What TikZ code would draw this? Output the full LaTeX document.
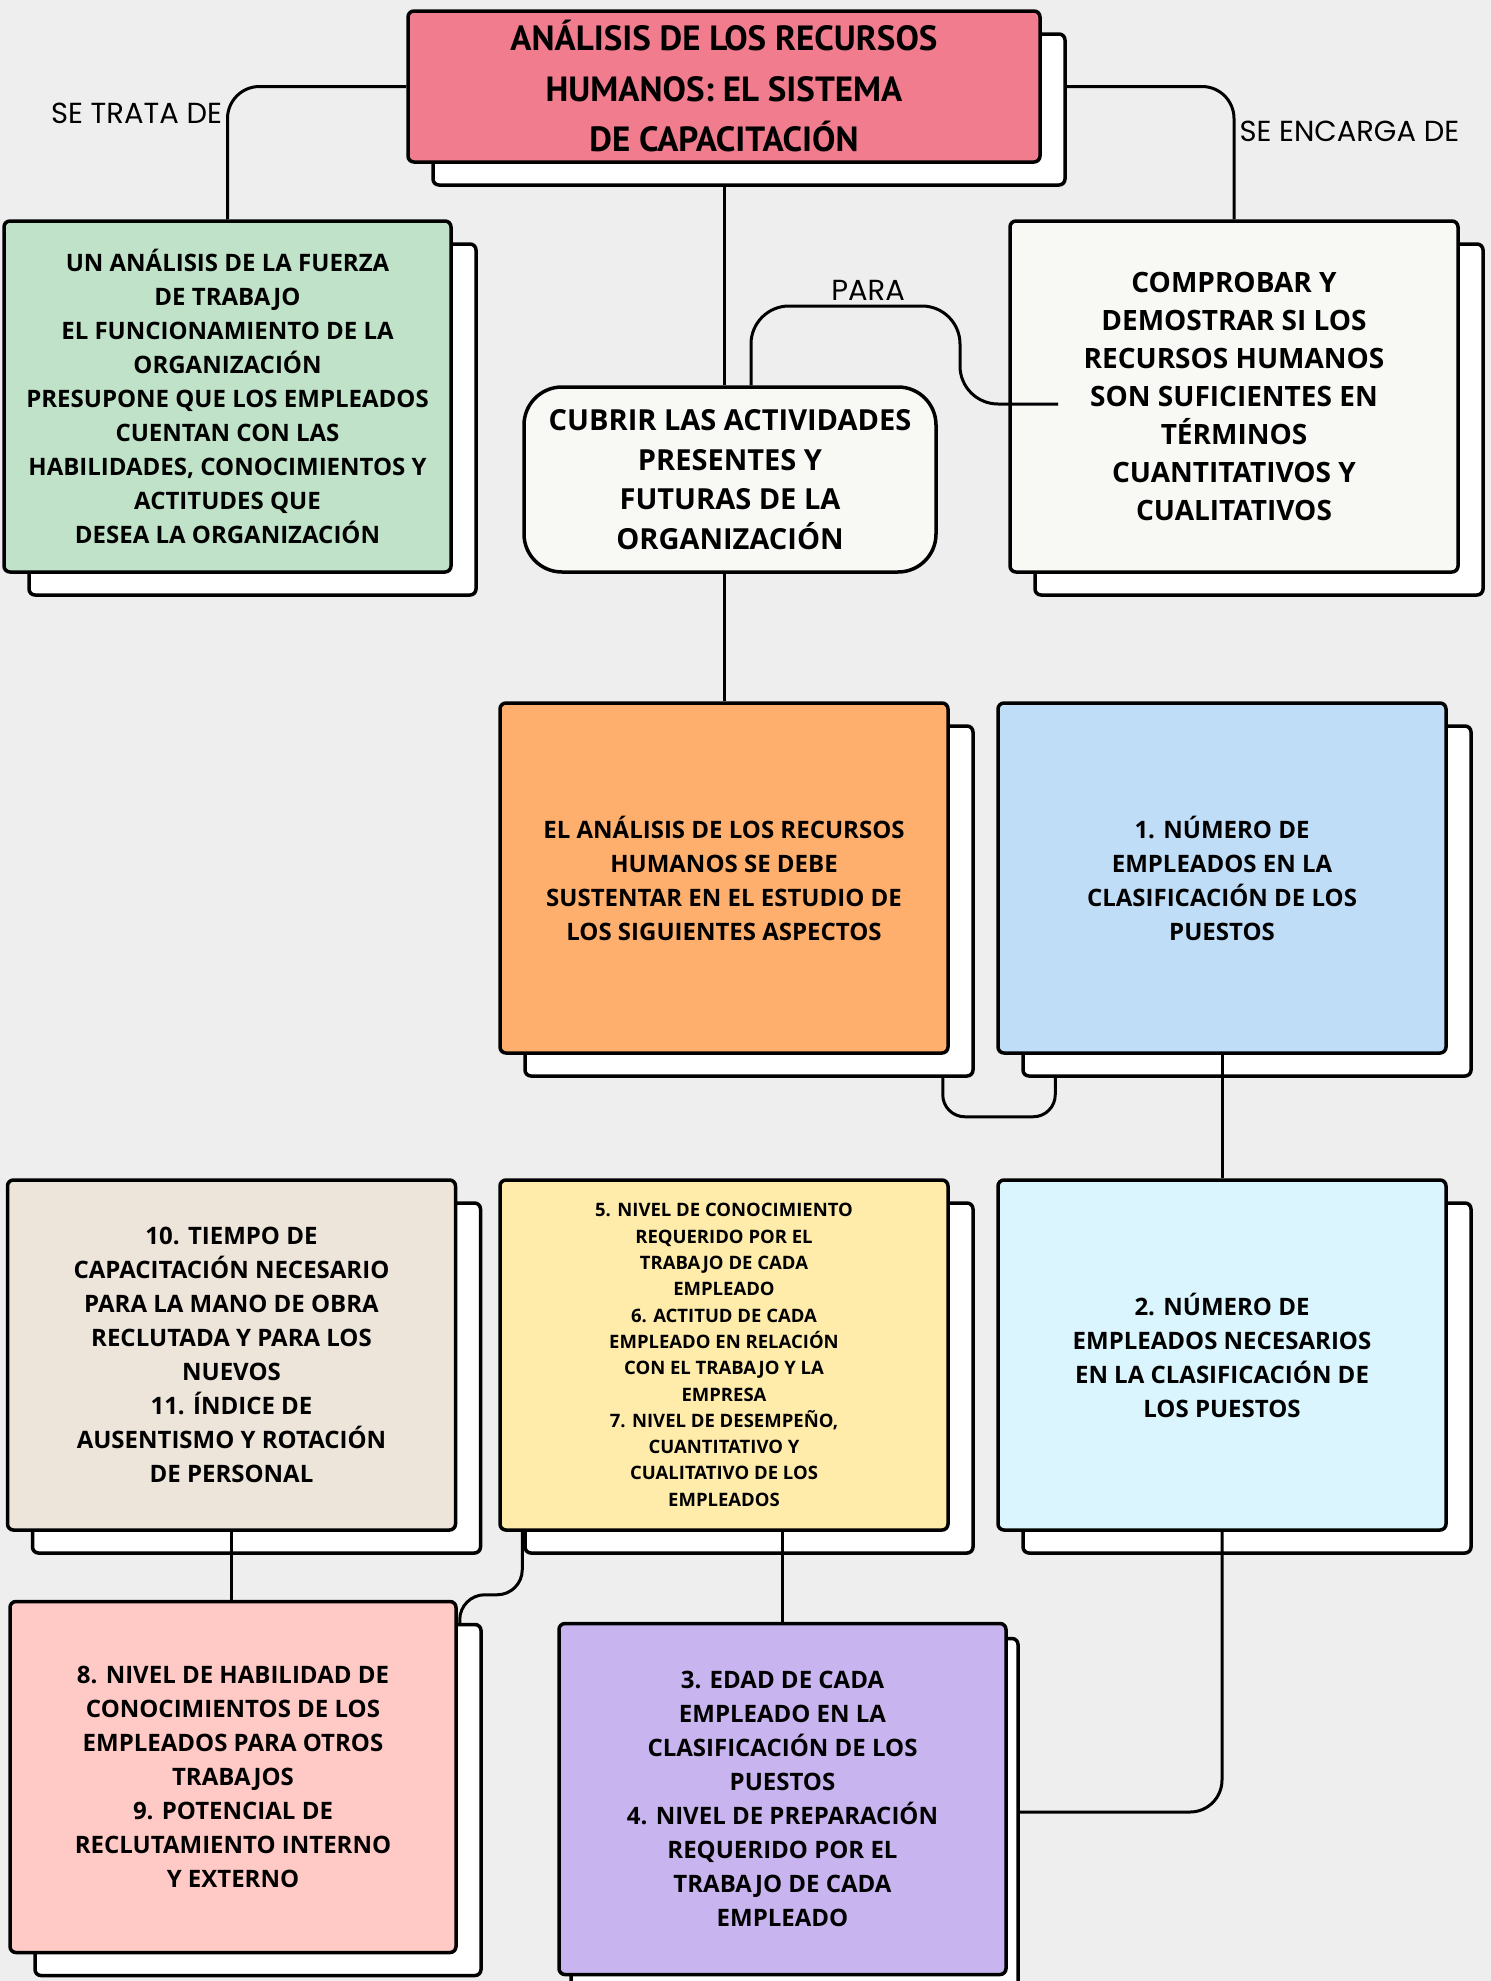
\documentclass[tikz,border=0pt]{standalone}
\usepackage{fontspec}
\setmainfont{Open Sans}
\newfontfamily\sketchfont{PT Sans}
\newfontfamily\tagfont{Poppins}
\usepackage{xcolor}
\definecolor{PaperGray}{RGB}{238,238,238}
\definecolor{TitlePink}{RGB}{240,124,142}
\definecolor{SageGreen}{RGB}{191,226,200}
\definecolor{OffWhite}{RGB}{248,248,245}
\definecolor{Apricot}{RGB}{255,175,109}
\definecolor{SkyBlue}{RGB}{191,221,247}
\definecolor{Sand}{RGB}{237,228,218}
\definecolor{Butter}{RGB}{255,236,170}
\definecolor{IceBlue}{RGB}{218,245,254}
\definecolor{Blush}{RGB}{255,202,197}
\definecolor{Lilac}{RGB}{200,180,238}
\usepackage{tikz}
\usetikzlibrary{
    arrows.meta,
    positioning,
    calc,
    shadows,
    backgrounds
}

\begin{document}
\begin{tikzpicture}[
    x=1pt,y=-1pt,
    card/.style={
        draw=black,
        line width=3.5pt,
        rounded corners=6pt,
        inner sep=0pt,
        align=center,
        font=\bfseries\fontsize{24}{34}\selectfont,
        minimum width=448pt,
        minimum height=350pt
    },
    paper/.style={
        copy shadow={
            shadow xshift=25pt,
            shadow yshift=-23pt,
            fill=white,
            draw=black,
            line width=3.5pt,
            #1
        }
    },
    paper/.default={},
    link/.style={
        draw=black,
        line width=3pt,
        rounded corners=32pt
    },
    tag/.style={
        font=\tagfont\fontsize{29}{32}\selectfont,
        inner sep=4pt
    }
]
%
    \useasboundingbox
    (0,0)
    rectangle
    (1491,1981);
%
    % title of the map
%
    \node[
        card,
        paper,
        fill=TitlePink,
        minimum width=632pt,
        minimum height=151pt,
        font=\sketchfont\bfseries\fontsize{35}{50.5}\selectfont
    ]
    (title) at (724,86.5) {
        ANÁLISIS DE LOS RECURSOS\\
        HUMANOS: EL SISTEMA\\
        DE CAPACITACIÓN
    };
%
    % first row
%
    \node[
        card,
        paper,
        fill=SageGreen,
        minimum width=447pt,
        minimum height=351pt
    ]
    (trata) at (227.5,396.5) {
        UN ANÁLISIS DE LA FUERZA\\
        DE TRABAJO\\
        EL FUNCIONAMIENTO DE LA\\
        ORGANIZACIÓN\\
        PRESUPONE QUE LOS EMPLEADOS\\
        CUENTAN CON LAS\\
        HABILIDADES, CONOCIMIENTOS Y\\
        ACTITUDES QUE\\
        DESEA LA ORGANIZACIÓN
    };
%
    \node[
        card,
        fill=OffWhite,
        rounded corners=38pt,
        minimum width=412pt,
        minimum height=185pt,
        font=\bfseries\fontsize{29}{39.6}\selectfont
    ]
    (cubrir) at (730,479.5) {
        CUBRIR LAS ACTIVIDADES\\
        PRESENTES Y\\
        FUTURAS DE LA\\
        ORGANIZACIÓN
    };
%
    \node[
        card,
        paper,
        fill=OffWhite,
        minimum height=351pt,
        font=\bfseries\fontsize{28}{38}\selectfont
    ]
    (encarga) at (1234,396.5) {
        COMPROBAR Y\\
        DEMOSTRAR SI LOS\\
        RECURSOS HUMANOS\\
        SON SUFICIENTES EN\\
        TÉRMINOS\\
        CUANTITATIVOS Y\\
        CUALITATIVOS
    };
%
    % second row
%
    \node[
        card,
        paper,
        fill=Apricot
    ]
    (analisis) at (724,878) {
        EL ANÁLISIS DE LOS RECURSOS\\
        HUMANOS SE DEBE\\
        SUSTENTAR EN EL ESTUDIO DE\\
        LOS SIGUIENTES ASPECTOS
    };
%
    \node[
        card,
        paper,
        fill=SkyBlue
    ]
    (numero) at (1222,878) {
        1. NÚMERO DE\\
        EMPLEADOS EN LA\\
        CLASIFICACIÓN DE LOS\\
        PUESTOS
    };
%
    % third row
%
    \node[
        card,
        paper,
        fill=Sand
    ]
    (tiempo) at (231.5,1355) {
        10. TIEMPO DE\\
        CAPACITACIÓN NECESARIO\\
        PARA LA MANO DE OBRA\\
        RECLUTADA Y PARA LOS\\
        NUEVOS\\
        11. ÍNDICE DE\\
        AUSENTISMO Y ROTACIÓN\\
        DE PERSONAL
    };
%
    \node[
        card,
        paper,
        fill=Butter,
        font=\bfseries\fontsize{18.5}{26.3}\selectfont
    ]
    (nivel) at (724,1355) {
        5. NIVEL DE CONOCIMIENTO\\
        REQUERIDO POR EL\\
        TRABAJO DE CADA\\
        EMPLEADO\\
        6. ACTITUD DE CADA\\
        EMPLEADO EN RELACIÓN\\
        CON EL TRABAJO Y LA\\
        EMPRESA\\
        7. NIVEL DE DESEMPEÑO,\\
        CUANTITATIVO Y\\
        CUALITATIVO DE LOS\\
        EMPLEADOS
    };
%
    \node[
        card,
        paper,
        fill=IceBlue
    ]
    (necesarios) at (1222,1355) {
        2. NÚMERO DE\\
        EMPLEADOS NECESARIOS\\
        EN LA CLASIFICACIÓN DE\\
        LOS PUESTOS
    };
%
    % fourth row
%
    \node[
        card,
        paper,
        fill=Blush,
        minimum width=446pt,
        minimum height=351pt
    ]
    (habilidad) at (233,1777) {
        8. NIVEL DE HABILIDAD DE\\
        CONOCIMIENTOS DE LOS\\
        EMPLEADOS PARA OTROS\\
        TRABAJOS\\
        9. POTENCIAL DE\\
        RECLUTAMIENTO INTERNO\\
        Y EXTERNO
    };
%
    \node[
        card,
        paper={shadow xshift=12pt, shadow yshift=-15pt},
        fill=Lilac,
        minimum width=447pt,
        minimum height=351pt
    ]
    (edad) at (782.5,1799) {
        3. EDAD DE CADA\\
        EMPLEADO EN LA\\
        CLASIFICACIÓN DE LOS\\
        PUESTOS\\
        4. NIVEL DE PREPARACIÓN\\
        REQUERIDO POR EL\\
        TRABAJO DE CADA\\
        EMPLEADO
    };
%
    \coordinate (paraturn) at (960,306);
    \coordinate (paraend) at (1058,404);
    \coordinate (edadin) at (1017,1812);
%
    % links hidden behind the stacked sheets
%
    \begin{scope}[on background layer]
        \fill[
            PaperGray
        ]
        (0,0)
        rectangle
        (1491,1981);
    %
        \draw[
            link
        ]
        (title.west)
        -|
        node[
            tag,
            pos=0.6,
            left
        ] (setrata) {SE TRATA DE}
        (trata.north);
    %
        \draw[
            link
        ]
        (title.east)
        -|
        node[
            tag,
            pos=0.67,
            right
        ] (seencarga) {SE ENCARGA DE}
        (encarga.north);
    %
        \draw[
            link
        ]
        (title.south)
        --
        (title.south |- cubrir.north);
    %
        \draw[
            link
        ]
        (analisis.north |- cubrir.south)
        --
        (analisis.north);
    %
        \draw[
            link,
            rounded corners=22pt
        ]
        ([xshift=-7pt]analisis.south east)
        --
        ++(0,62)
        -|
        ([xshift=59pt]numero.south west);
    %
        \draw[
            link,
            rounded corners=25pt
        ]
        ($(nivel.south west)+(24,0)$)
        --
        ++(0,63)
        -|
        ($(habilidad.north east)+(2,30)$);
    \end{scope}
%
    % links drawn over the sheets
%
    \draw[
        link,
        rounded corners=38pt
    ]
    ([xshift=21pt]cubrir.north)
    |-
    node[
        tag,
        pos=0.78,
        above
    ] (para) {PARA}
    (paraturn)
    |-
    (paraend);
%
    \draw[
        link
    ]
    (numero.south)
    --
    (necesarios.north);
%
    \draw[
        link
    ]
    (necesarios.south)
    |-
    (edadin);
%
    \draw[
        link
    ]
    (edad.north |- nivel.south)
    --
    (edad.north);
%
    \draw[
        link
    ]
    (tiempo.south)
    --
    (tiempo.south |- habilidad.north);
%
\end{tikzpicture}
\end{document}
